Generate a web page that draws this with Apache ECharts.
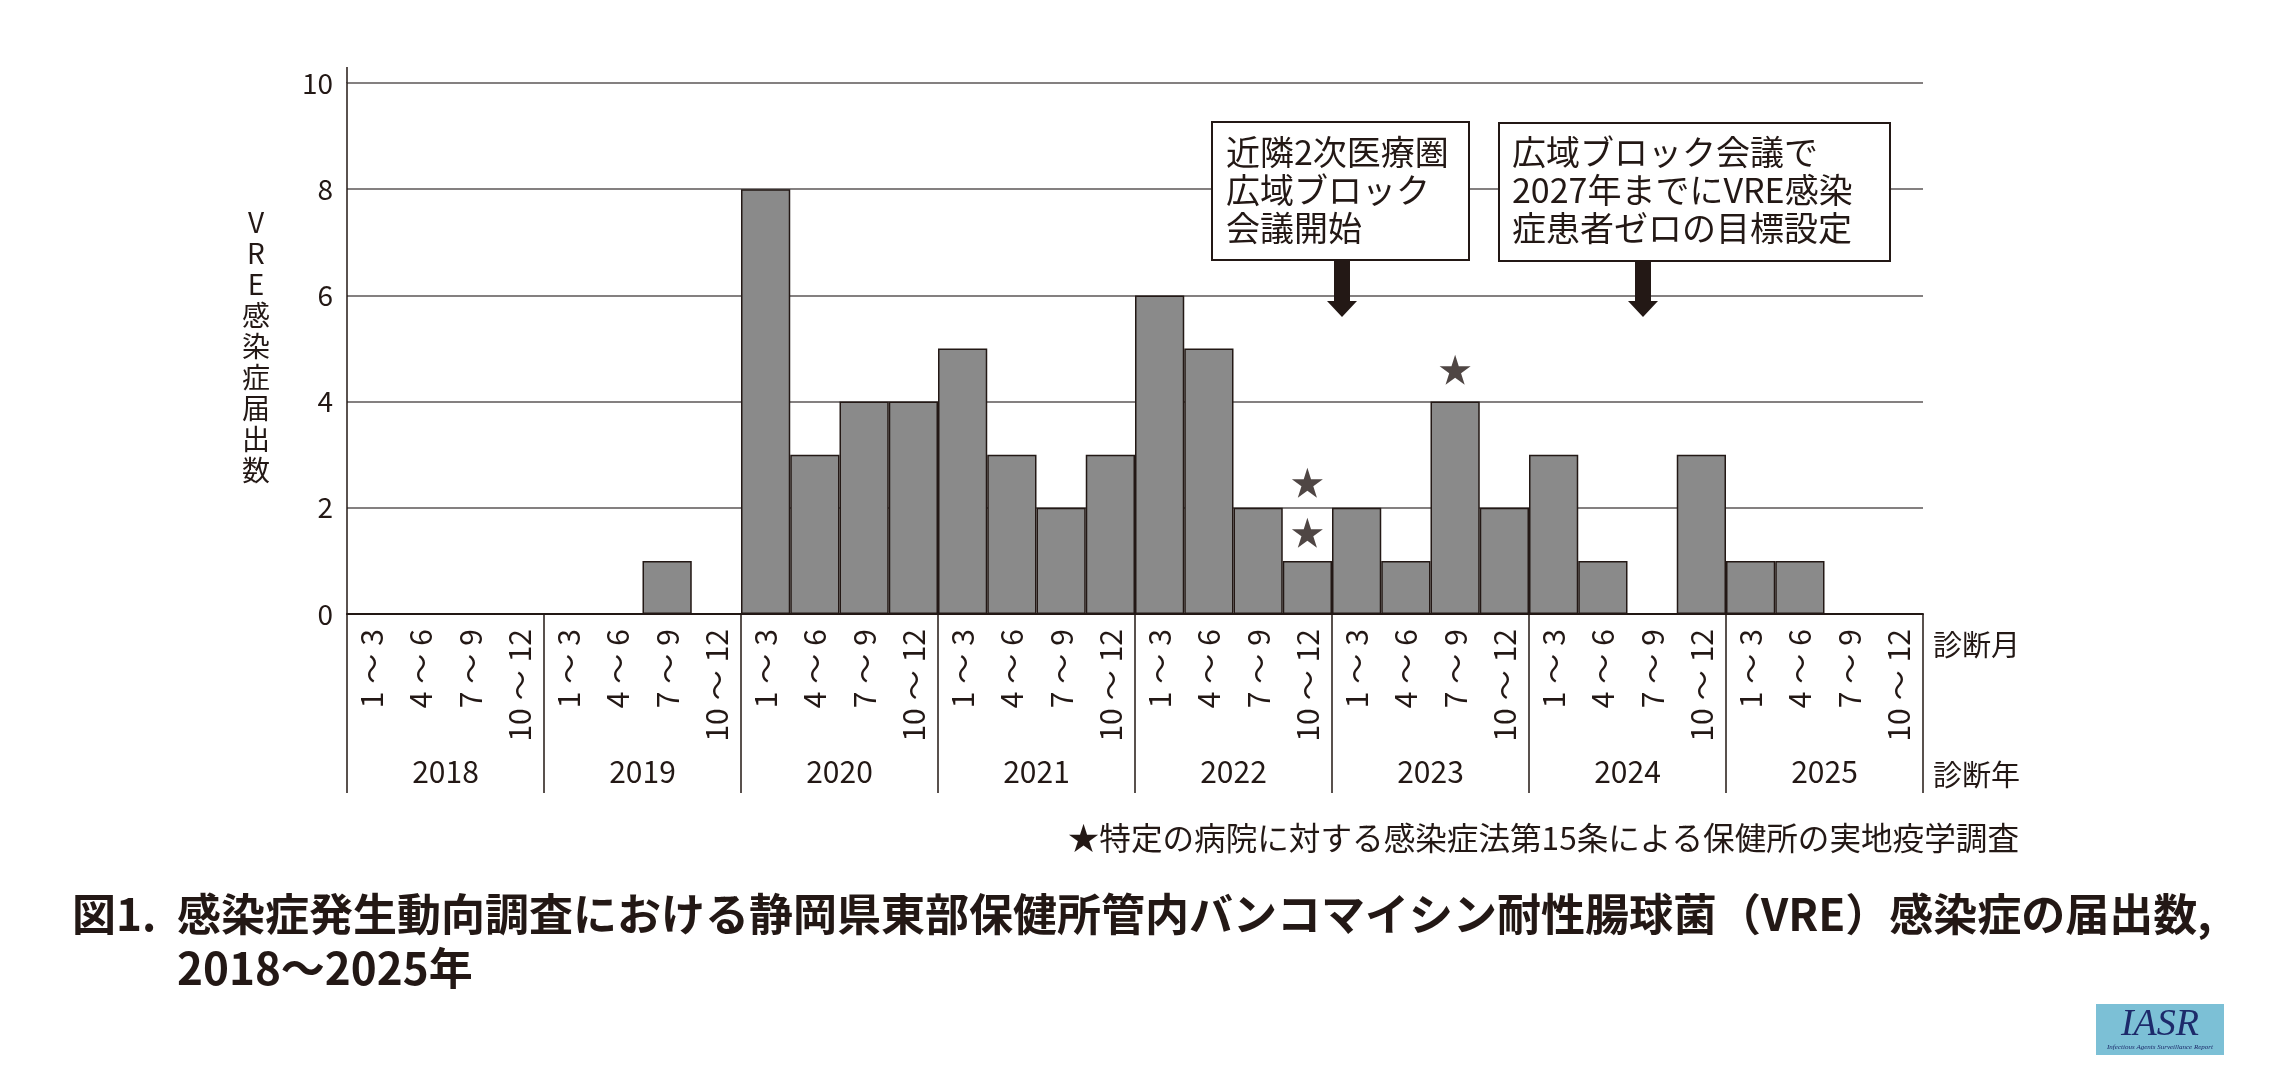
<!DOCTYPE html>
<html>
<head>
<meta charset="utf-8">
<script src="https://cdn.jsdelivr.net/npm/echarts@6/dist/echarts.min.js"></script>
<style>
html,body{margin:0;padding:0;background:#fff;}
#c{width:2294px;height:1080px;}
</style>
</head>
<body>
<div id="c"></div>
<script>
const years = ['2018','2019','2020','2021','2022','2023','2024','2025'];
const months = ['1～3','4～6','7～9','10～12'];
const counts = [0,0,0,0, 0,0,1,0, 8,3,4,4, 5,3,2,3, 6,5,2,1, 2,1,4,2, 3,1,0,3, 1,1,0,0];
const starIndex = [19,19,22];
const starValue = [1.53,2.47,4.6];
const yTicks = {min:0, max:10, interval:2};
const yTitle = 'VRE感染症届出数';
const note1 = ['近隣2次医療圏','広域ブロック','会議開始'];
const note2 = ['広域ブロック会議で','2027年までにVRE感染','症患者ゼロの目標設定'];
const footnote = '★特定の病院に対する感染症法第15条による保健所の実地疫学調査';
const titleHead = '図1.';
const titleLine1 = '感染症発生動向調査における静岡県東部保健所管内バンコマイシン耐性腸球菌（VRE）感染症の届出数,';
const titleLine2 = '2018～2025年';

const monthCats = [];
years.forEach(y => months.forEach(m => monthCats.push(m)));
const starData = starIndex.map((x,i)=>[x, starValue[i]]);

const FONT = '"Noto Sans CJK JP","Noto Sans",sans-serif';
const INK = '#231815';
const STAR = 'path://M50,0 L61.2,34.5 L97.6,34.5 L68.2,55.9 L79.4,90.5 L50,69.1 L20.6,90.5 L31.8,55.9 L2.4,34.5 L38.8,34.5 Z';

const chart = echarts.init(document.getElementById('c'), null, {renderer:'canvas'});

function arrow(cx, y0, y1){
  const sw = 8, hw = 15, hh = 16;
  return {type:'polygon', shape:{points:[
    [cx-sw,y0],[cx+sw,y0],[cx+sw,y1-hh],[cx+hw,y1-hh],[cx,y1],[cx-hw,y1-hh],[cx-sw,y1-hh]
  ]}, style:{fill:INK}, z:20};
}

function monthLabel(v){
  const p = v.split('～');
  return '{d|' + p[0] + '}{w|～}{d|' + p[1] + '}';
}

const option = {
  animation:false,
  backgroundColor:'#fff',
  textStyle:{fontFamily:FONT, color:INK},
  grid:{left:347, right:371, top:83, bottom:466, containLabel:false},
  xAxis:[
    {type:'category', data:monthCats, position:'bottom',
     axisLine:{show:true, lineStyle:{color:INK, width:2}},
     axisTick:{show:false},
     axisLabel:{rotate:90, margin:15, fontSize:30, color:INK, fontFamily:FONT, interval:0,
       formatter:monthLabel,
       rich:{d:{fontSize:30, fontFamily:FONT, color:INK}, w:{fontSize:30, fontFamily:FONT, color:INK, padding:[0,8,0,8]}}}},
    {type:'category', data:years, position:'bottom',
     axisLine:{show:false},
     axisTick:{show:true, length:179, lineStyle:{color:INK, width:1.5}},
     axisLabel:{margin:143, fontSize:30, color:INK, fontFamily:FONT, interval:0}}
  ],
  yAxis:{type:'value', min:yTicks.min, max:yTicks.max, interval:yTicks.interval,
    axisLine:{show:true, lineStyle:{color:INK, width:1.5}},
    axisTick:{show:false},
    axisLabel:{fontSize:28, margin:14, color:INK, fontFamily:FONT},
    splitLine:{show:true, lineStyle:{color:'#5b5656', width:1.5}}},
  series:[
    {type:'bar', xAxisIndex:0, data:counts, barCategoryGap:'0%', barGap:'0%',
     itemStyle:{color:'#8a8a8a', borderColor:INK, borderWidth:1.5}, z:5},
    {type:'scatter', xAxisIndex:0, data:starData, symbol:STAR, symbolSize:[31,30],
     itemStyle:{color:INK}, z:6}
  ],
  graphic:[]
};
chart.setOption(option);

const c0 = chart.convertToPixel({xAxisIndex:0}, 0);
const bw = chart.convertToPixel({xAxisIndex:0}, 1) - c0;
const xLeft = c0 - bw/2;
const xRight = chart.convertToPixel({xAxisIndex:0}, 31) + bw/2;
const yTop = chart.convertToPixel({yAxisIndex:0}, 10);

const g = [];
g.push({type:'line', shape:{x1:xLeft, y1:yTop-16, x2:xLeft, y2:yTop}, style:{stroke:INK, lineWidth:1.5}});
g.push({type:'text', x:256, y:346, style:{text:yTitle.split('').join('\n'), font:'28px '+FONT, fill:INK, align:'center', verticalAlign:'middle', lineHeight:31}});
g.push({type:'text', x:xRight+10, y:645, style:{text:'診断月', font:'29px '+FONT, fill:INK, verticalAlign:'middle'}});
g.push({type:'text', x:xRight+10, y:775, style:{text:'診断年', font:'29px '+FONT, fill:INK, verticalAlign:'middle'}});
g.push({type:'rect', shape:{x:1212, y:122, width:257, height:138}, style:{fill:'#fff', stroke:INK, lineWidth:2}, z:15});
g.push({type:'text', x:1226, y:133, style:{text:note1.join('\n'), font:'34px '+FONT, fill:INK, lineHeight:38, verticalAlign:'top'}, z:16});
g.push({type:'rect', shape:{x:1499, y:123, width:391, height:138}, style:{fill:'#fff', stroke:INK, lineWidth:2}, z:15});
g.push({type:'text', x:1512, y:133, style:{text:note2.join('\n'), font:'34px '+FONT, fill:INK, lineHeight:38, verticalAlign:'top'}, z:16});
g.push(arrow(1342, 261, 317));
g.push(arrow(1643, 261, 317));
g.push({type:'text', x:2019, y:838, style:{text:footnote, font:'31.6px '+FONT, fill:INK, align:'right', verticalAlign:'middle'}});
g.push({type:'text', x:72, y:914, style:{text:titleHead, font:'bold 44px '+FONT, fill:INK, verticalAlign:'middle'}});
g.push({type:'text', x:177, y:914, style:{text:titleLine1, font:'bold 44px '+FONT, fill:INK, verticalAlign:'middle'}});
g.push({type:'text', x:177, y:968, style:{text:titleLine2, font:'bold 44px '+FONT, fill:INK, verticalAlign:'middle'}});
g.push({type:'rect', shape:{x:2096, y:1004, width:128, height:51}, style:{fill:'#7cc0d6'}});
g.push({type:'text', x:2160, y:1025, style:{text:'IASR', font:'italic 38px "Liberation Serif","DejaVu Serif",serif', fill:'#1d2a6a', align:'center', verticalAlign:'middle'}});
g.push({type:'text', x:2160, y:1047, style:{text:'Infectious Agents Surveillance Report', font:'italic 7px "Liberation Serif",serif', fill:'#1d2a6a', align:'center', verticalAlign:'middle'}});

chart.setOption({graphic:g});
</script>
</body>
</html>
